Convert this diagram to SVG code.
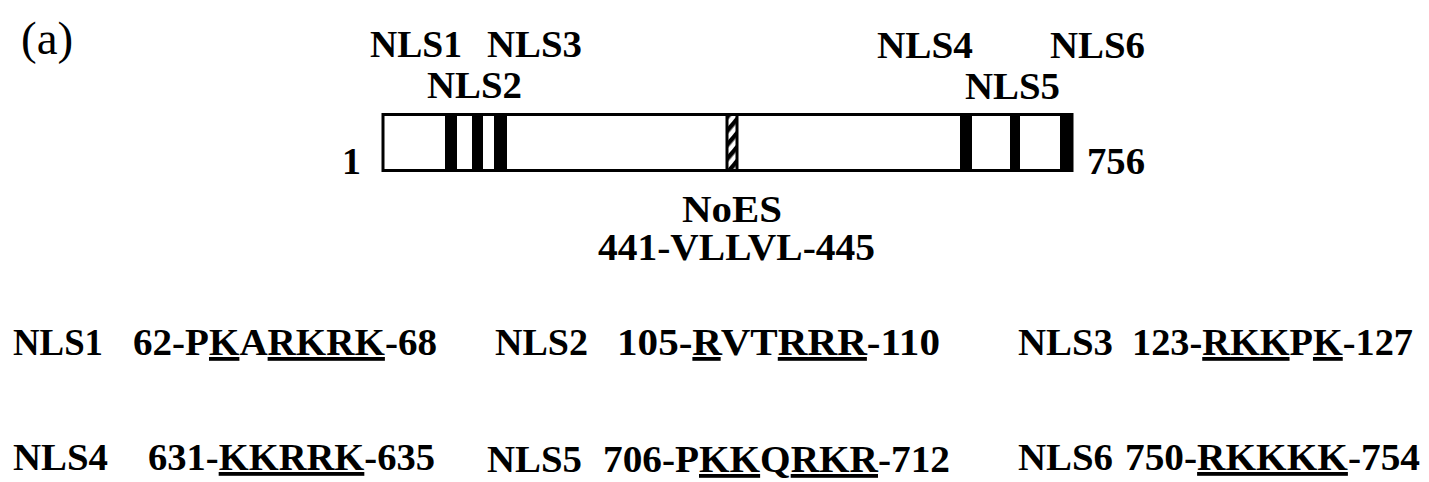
<svg xmlns="http://www.w3.org/2000/svg" width="1429" height="482" viewBox="0 0 1429 482">
<style>
text{font-family:"Liberation Serif","Times New Roman",serif;fill:#000}
.b{font-weight:bold;font-size:38px}
.u{text-decoration:underline}
.mid{text-anchor:middle}
.bar{fill:#000}
</style>
<defs>
<pattern id="hatch" patternUnits="userSpaceOnUse" width="9" height="9" patternTransform="rotate(-50)">
<rect width="9" height="9" fill="#fff"/>
<rect width="9" height="4.5" fill="#000"/>
</pattern>
</defs>
<rect width="1429" height="482" fill="#fff"/>
<text x="21" y="54" style="font-size:47px">(a)</text>
<g id="protein">
<rect x="383" y="114.5" width="689" height="56" fill="#fff" stroke="#000" stroke-width="3"/>
<rect class="bar" x="445" y="113" width="12" height="59"/>
<rect class="bar" x="472" y="113" width="11" height="59"/>
<rect class="bar" x="494" y="113" width="13" height="59"/>
<rect x="727" y="114.5" width="10" height="56" fill="url(#hatch)" stroke="#000" stroke-width="3"/>
<rect class="bar" x="960" y="113" width="12" height="59"/>
<rect class="bar" x="1010" y="113" width="10" height="59"/>
<rect class="bar" x="1060" y="113" width="13" height="59"/>
</g>
<g id="labels">
<text class="b" x="370" y="57" textLength="92" lengthAdjust="spacingAndGlyphs">NLS1</text>
<text class="b" x="487" y="57" textLength="95" lengthAdjust="spacingAndGlyphs">NLS3</text>
<text class="b" x="427" y="98" textLength="95" lengthAdjust="spacingAndGlyphs">NLS2</text>
<text class="b" x="877" y="58" textLength="96" lengthAdjust="spacingAndGlyphs">NLS4</text>
<text class="b" x="1050" y="58" textLength="95" lengthAdjust="spacingAndGlyphs">NLS6</text>
<text class="b" x="965" y="99" textLength="95" lengthAdjust="spacingAndGlyphs">NLS5</text>
<text class="b" x="342" y="174">1</text>
<text class="b" x="1087" y="174" textLength="58" lengthAdjust="spacingAndGlyphs">756</text>
<text class="b" x="682" y="222" textLength="100" lengthAdjust="spacingAndGlyphs">NoES</text>
<text class="b" x="598" y="260" textLength="277" lengthAdjust="spacingAndGlyphs">441-VLLVL-445</text>
</g>
<g id="row1">
<text class="b" x="13" y="355" textLength="90" lengthAdjust="spacingAndGlyphs">NLS1</text>
<text class="b" x="133" y="355" textLength="304" lengthAdjust="spacingAndGlyphs">62-P<tspan class="u">K</tspan>A<tspan class="u">RKRK</tspan>-68</text>
<text class="b" x="495" y="355" textLength="93" lengthAdjust="spacingAndGlyphs">NLS2</text>
<text class="b" x="617" y="355" textLength="323" lengthAdjust="spacingAndGlyphs">105-<tspan class="u">R</tspan>VT<tspan class="u">RRR</tspan>-110</text>
<text class="b" x="1018" y="355" textLength="95" lengthAdjust="spacingAndGlyphs">NLS3</text>
<text class="b" x="1132" y="355" textLength="281" lengthAdjust="spacingAndGlyphs">123-<tspan class="u">RKK</tspan>P<tspan class="u">K</tspan>-127</text>
</g>
<g id="row2">
<text class="b" x="13" y="470" textLength="95" lengthAdjust="spacingAndGlyphs">NLS4</text>
<text class="b" x="148" y="470" textLength="287" lengthAdjust="spacingAndGlyphs">631-<tspan class="u">KKRRK</tspan>-635</text>
<text class="b" x="487" y="472" textLength="95" lengthAdjust="spacingAndGlyphs">NLS5</text>
<text class="b" x="603" y="472" textLength="347" lengthAdjust="spacingAndGlyphs">706-P<tspan class="u">KK</tspan>Q<tspan class="u">RKR</tspan>-712</text>
<text class="b" x="1018" y="470" textLength="95" lengthAdjust="spacingAndGlyphs">NLS6</text>
<text class="b" x="1125" y="470" textLength="295" lengthAdjust="spacingAndGlyphs">750-<tspan class="u">RKKKK</tspan>-754</text>
</g>
</svg>
